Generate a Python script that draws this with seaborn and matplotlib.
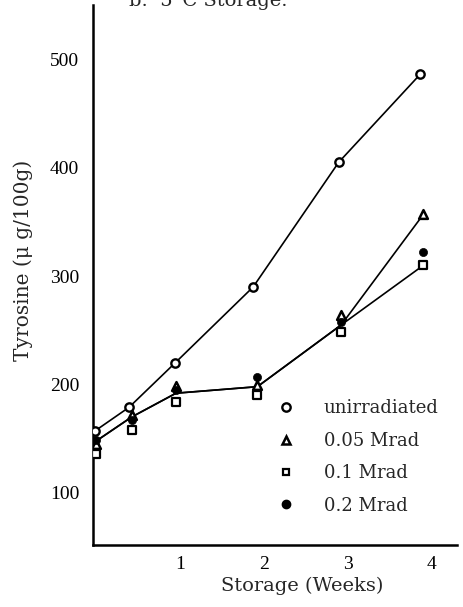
import matplotlib
matplotlib.use("Agg")
import matplotlib.pyplot as plt
import seaborn as sns
from matplotlib.lines import Line2D

sns.set_theme(style="white")
plt.rcParams['font.family'] = ['Liberation Serif', 'DejaVu Serif']

# ---- data ----
weeks_unirr = [-0.02, 0.39, 0.94, 1.87, 2.89, 3.86]
unirradiated = [157, 179, 220, 290, 405, 486]

weeks_irr = [0.0, 0.42, 0.95, 1.92, 2.92, 3.9]
mrad_005 = [145, 172, 199, 200, 264, 357]
mrad_01 = [136, 158, 184, 190, 248, 310]
mrad_02 = [149, 167, 195, 207, 258, 322]

trend_a = [148, 170, 192, 198, 255, 357]   # line ending at 0.05 Mrad
trend_b = [148, 170, 192, 198, 255, 310]   # line ending at 0.1 Mrad

xticks = [1, 2, 3, 4]
yticks = [100, 200, 300, 400, 500]
legend_labels = ["unirradiated", "0.05 Mrad", "0.1 Mrad", "0.2 Mrad"]

SERIF = ['DejaVu Serif']

fig = plt.figure(figsize=(4.63, 6.07), dpi=100)
ax = fig.add_axes([93/463, 1-545/607, (457-93)/463, (545-5)/607])

lw = 1.2
sns.lineplot(x=weeks_unirr, y=unirradiated, ax=ax, color='black', lw=lw, zorder=2)
sns.lineplot(x=weeks_irr, y=trend_a, ax=ax, color='black', lw=lw, zorder=2)
sns.lineplot(x=weeks_irr, y=trend_b, ax=ax, color='black', lw=lw, zorder=2)

sns.scatterplot(x=weeks_unirr, y=unirradiated, ax=ax, marker='o', s=36,
                facecolor='white', edgecolor='black', linewidth=1.7, zorder=4)
sns.scatterplot(x=weeks_irr, y=mrad_005, ax=ax, marker='^', s=40,
                facecolor='white', edgecolor='black', linewidth=1.8, zorder=4)
sns.scatterplot(x=weeks_irr, y=mrad_01, ax=ax, marker='s', s=28,
                facecolor='white', edgecolor='black', linewidth=1.6, zorder=4)
sns.scatterplot(x=weeks_irr, y=mrad_02, ax=ax, marker='o', s=34,
                color='black', edgecolor='black', linewidth=0.5, zorder=4)

ax.set_xlim(-0.04, 4.3)
ax.set_ylim(52, 550)
ax.set_xticks(xticks)
ax.set_xticklabels([str(t) for t in xticks])
ax.set_yticks(yticks)
ax.set_yticklabels([str(t) for t in yticks])
ax.tick_params(direction='in', length=5, width=1.5, colors='black',
               labelsize=14, pad=8)
ax.tick_params(axis='y', pad=10)

for side in ['top', 'right']:
    ax.spines[side].set_visible(False)
for side in ['left', 'bottom']:
    ax.spines[side].set_linewidth(1.8)
    ax.spines[side].set_color('black')

ax.set_xlabel("Storage (Weeks)", fontsize=14, family=SERIF)
ax.xaxis.set_label_coords((302-93)/364, -0.058)
ax.set_ylabel("Tyrosine (μ g/100g)", fontsize=14.5, family=SERIF)
ax.yaxis.set_label_coords(-0.165, 0.528)

handles = [
    Line2D([], [], ls='none', marker='o', markersize=6, mfc='white', mec='black', mew=1.7),
    Line2D([], [], ls='none', marker='^', markersize=6, mfc='white', mec='black', mew=1.8),
    Line2D([], [], ls='none', marker='s', markersize=5, mfc='white', mec='black', mew=1.6),
    Line2D([], [], ls='none', marker='o', markersize=6, mfc='black', mec='black'),
]
ax.legend(handles, legend_labels, loc='upper left', bbox_to_anchor=(0.49, 0.283),
          frameon=False, prop={'family': SERIF, 'size': 13},
          handlelength=0.8, handletextpad=1.7, labelspacing=0.8, borderaxespad=0)

fig.text(208/463, 1-6/607, "b.  5°C Storage.", ha='center', va='baseline',
         fontsize=14, family=SERIF)

fig.savefig("out.png", dpi=100, facecolor='white')
